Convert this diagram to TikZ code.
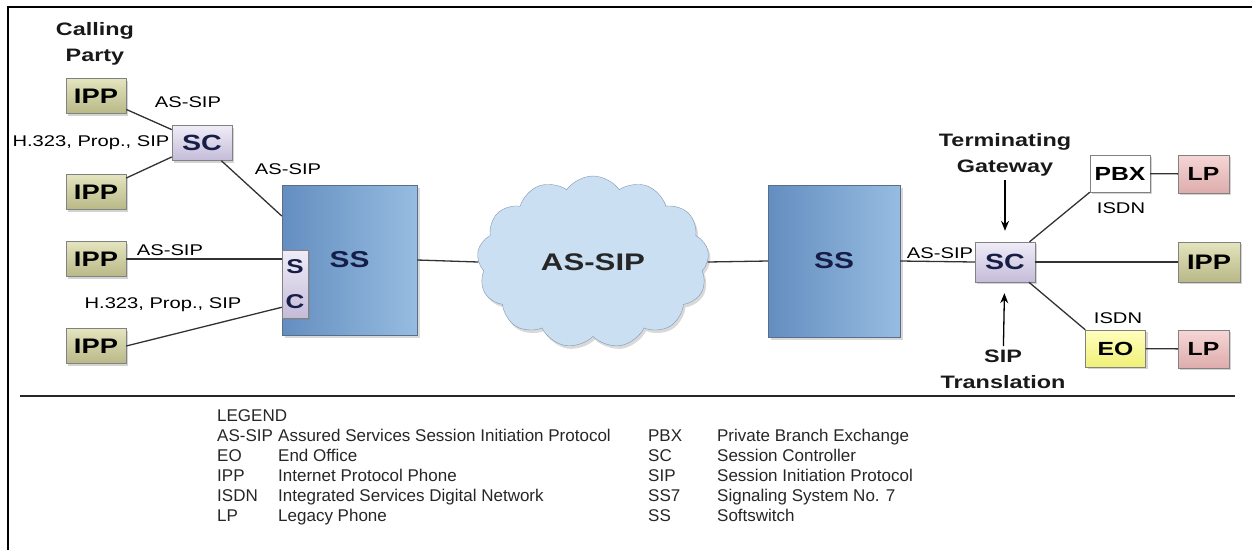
\documentclass[tikz,border=0pt]{standalone}
\usepackage{fontspec}
\setmainfont{Liberation Sans}[FakeStretch=1.3]
\newfontfamily\legendfont{Liberation Sans}
\usepackage{tikz}
\usetikzlibrary{shapes.symbols, arrows.meta, positioning, shadows, calc}
\definecolor{ipptop}{RGB}{228, 228, 190}
\definecolor{ippbot}{RGB}{184, 184, 136}
\definecolor{sctop}{RGB}{240, 236, 248}
\definecolor{scbot}{RGB}{196, 188, 216}
\definecolor{lptop}{RGB}{246, 214, 214}
\definecolor{lpbot}{RGB}{222, 172, 172}
\definecolor{eotop}{RGB}{255, 255, 190}
\definecolor{eobot}{RGB}{240, 240, 120}
\definecolor{ssdark}{RGB}{100, 142, 192}
\definecolor{sslight}{RGB}{150, 188, 224}
\definecolor{ssline}{RGB}{90, 110, 140}
\definecolor{cloudfill}{RGB}{202, 224, 242}
\definecolor{cloudline}{RGB}{130, 150, 178}
\definecolor{boxline}{RGB}{130, 130, 130}
\definecolor{linegray}{RGB}{50, 50, 50}
\definecolor{navytext}{RGB}{22, 30, 72}

\begin{document}
\begin{tikzpicture}[
    x=1pt, y=-1pt,
    box/.style={draw=boxline, inner sep=0pt, minimum width=60pt, minimum height=35pt,
                font=\bfseries\fontsize{19}{22}\selectfont,
                drop shadow={shadow xshift=2pt, shadow yshift=-2pt, opacity=.35}},
    phone/.style={box, top color=ipptop, bottom color=ippbot,
                  font=\bfseries\fontsize{21}{22}\selectfont},
    ctrl/.style={box, top color=sctop, bottom color=scbot, text=navytext,
                 font=\bfseries\fontsize{22}{22}\selectfont},
    legacy/.style={box, minimum width=51pt, top color=lptop, bottom color=lpbot},
    office/.style={box, top color=eotop, bottom color=eobot},
    exchange/.style={box, fill=white},
    softsw/.style={draw=ssline, inner sep=0pt, left color=ssdark, right color=sslight,
                   text=navytext, font=\bfseries\fontsize{23}{26}\selectfont,
                   drop shadow={shadow xshift=3pt, shadow yshift=-3pt, opacity=.3}},
    netcloud/.style={cloud, cloud puffs=13, cloud puff arc=110, aspect=1.33,
                     draw=cloudline, fill=cloudfill, minimum width=232pt, minimum height=172pt,
                     font=\bfseries\fontsize{24}{26}\selectfont, text=black!85,
                     drop shadow={shadow xshift=2pt, shadow yshift=-3pt, opacity=.3}},
    relation/.style={draw=linegray, line width=1.3pt},
    pointer/.style={-{Stealth[length=10pt, width=8pt]}, line width=1.3pt, shorten >=11pt},
    lbl/.style={font=\fontsize{15.5}{18}\selectfont, inner sep=1pt},
    head/.style={font=\bfseries\fontsize{18}{26}\selectfont, align=center, text=black!90}
]
    \useasboundingbox (0,0) rectangle (1252,550);
    % frame and separator
    \draw[line width=2.5pt] (1252,7) -- (8,7) -- (8,550);
    \draw[line width=2pt, black!85] (20,396) -- (1235,396);

    % ==================== CALLING SIDE ====================
    \node[head] (caller) at (95,44) {Calling\\Party};
    \node[phone] (ipp1) at (96,96) {IPP};
    \node[phone] (ipp2) at (96,192) {IPP};
    \node[phone] (ipp3) at (96,259) {IPP};
    \node[phone] (ipp4) at (96,346) {IPP};
    \node[ctrl] (sc1) at (202,143) {SC};
    \node[softsw, minimum width=135pt, minimum height=150pt] (ss1) at (349.5,260) {SS};
    \node[ctrl, minimum width=26pt, minimum height=68pt, align=center,
          font=\bfseries\fontsize{20}{35}\selectfont] (scs) at (295,284) {S\\C};

    % ==================== CORE ====================
    \node[netcloud] (core) at (593,262) {AS-SIP};
    \node[softsw, minimum width=132pt, minimum height=152pt] (ss2) at (834,261) {SS};

    % ==================== TERMINATING SIDE ====================
    \node[ctrl, minimum height=40pt] (sc2) at (1005,262) {SC};
    \node[head] (gateway) at (1005,155) {Terminating\\Gateway};
    \node[head] (transl) at (1003,369) {SIP\\Translation};
    \node[exchange, minimum height=37pt] (pbx) at (1120,173.5) {PBX};
    \node[legacy, minimum height=38pt] (lp1) at (1203.5,174) {LP};
    \node[phone, minimum width=62pt, minimum height=40pt] (ipp5) at (1209,262) {IPP};
    \node[office, minimum height=37pt] (eo) at (1115.5,348.5) {EO};
    \node[legacy, minimum height=38pt] (lp2) at (1203.5,349) {LP};

    % ==================== LABELS ====================
    \node[lbl] (l1) at (188,102) {AS-SIP};
    \node[lbl] (l2) at (91,143) {H.323, Prop., SIP};
    \node[lbl] (l3) at (288,169) {AS-SIP};
    \node[lbl] (l4) at (170,250) {AS-SIP};
    \node[lbl] (l5) at (163,305) {H.323, Prop., SIP};
    \node[lbl] (l6) at (940,253) {AS-SIP};
    \node[lbl] (l7) at (1121,208) {ISDN};
    \node[lbl] (l8) at (1118,318) {ISDN};

    % ==================== RELATIONSHIPS ====================
    \draw[relation] (ipp1) -- (sc1);
    \draw[relation] (ipp2) -- (sc1);
    \draw[relation] (sc1) -- (ss1.147);
    \draw[relation] (ipp3.east) -- (ipp3.east -| scs.west);
    \draw[relation] (ipp4.east) -- ($(scs.south west)!0.16!(scs.north west)$);
    \draw[relation] (ss1.east) -- (core.west);
    \draw[relation] (core.east) -- (ss2.west);
    \draw[relation] (ss2.east) -- (sc2.west);
    \draw[relation] (sc2) -- (pbx.south west);
    \draw[relation] (sc2.east) -- (ipp5.west);
    \draw[relation] (sc2) -- (eo.north west);
    \draw[relation] (pbx) -- (lp1);
    \draw[relation] (eo) -- (lp2);
    \draw[pointer] (gateway) -- (sc2);
    \draw[pointer] (transl) -- (sc2);

    % ==================== LEGEND ====================
    \node[anchor=north west, inner sep=0pt, font=\legendfont\fontsize{17}{20}\selectfont,
          text=black!85] (legend) at (217,407) {%
      \begin{tabular}{@{}p{61pt}@{}p{370pt}@{}p{69pt}@{}l@{}}
        LEGEND & & & \\
        AS-SIP & Assured Services Session Initiation Protocol & PBX & Private Branch Exchange \\
        EO & End Office & SC & Session Controller \\
        IPP & Internet Protocol Phone & SIP & Session Initiation Protocol \\
        ISDN & Integrated Services Digital Network & SS7 & Signaling System No. 7 \\
        LP & Legacy Phone & SS & Softswitch
      \end{tabular}};
\end{tikzpicture}
\end{document}
